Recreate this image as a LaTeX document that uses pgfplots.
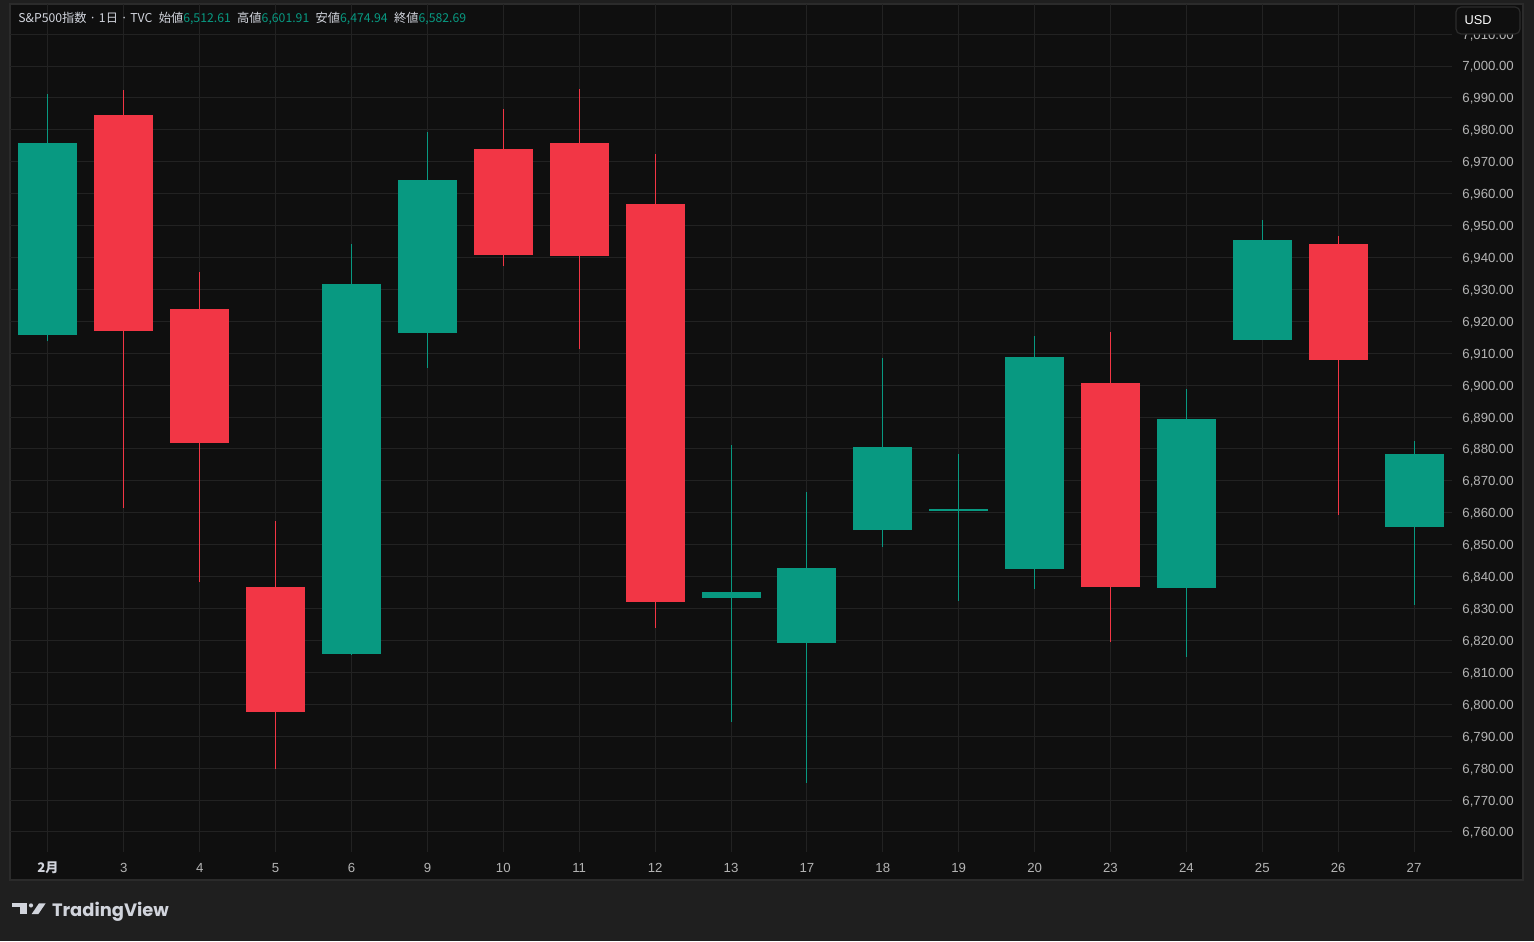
\documentclass[border=0pt]{standalone}
\usepackage{fontspec}
\setmainfont{Liberation Sans}
\newfontfamily\jp{Noto Sans CJK JP}
\newfontfamily\logofont{Poppins}
\usepackage{pgfplots}
\usepackage{pgfplotstable}
\pgfplotsset{compat=1.18}

\definecolor{outerbg}{HTML}{1F1F1F}
\definecolor{panelbg}{HTML}{0F0F0F}
\definecolor{panelbd}{HTML}{2B2B2B}
\definecolor{gridc}{HTML}{222222}
\definecolor{tickc}{HTML}{B4B4B4}
\definecolor{hdrc}{HTML}{D1D4DC}
\definecolor{upc}{HTML}{089981}
\definecolor{dnc}{HTML}{F23645}

% candles: x = day index, segments split by nan
% wick = low -> high, body = open -> close
\pgfplotstableread{
x   y
0   6913.8
0   6991.2
0   nan
4   6815.5
4   6944.2
4   nan
5   6905.4
5   6979.3
5   nan
9   6794.5
9   6881.3
9   nan
10  6775.4
10  6866.5
10  nan
11  6849.3
11  6908.5
11  nan
12  6832.4
12  6878.4
12  nan
13  6836.1
13  6915.4
13  nan
15  6814.8
15  6898.8
15  nan
16  6914.0
16  6951.8
16  nan
18  6831.1
18  6882.5
}\upwick

\pgfplotstableread{
x   y
0   6915.7
0   6975.9
0   nan
4   6815.8
4   6931.7
4   nan
5   6916.3
5   6964.3
5   nan
9   6833.4
9   6835.3
9   nan
10  6819.2
10  6842.7
10  nan
11  6854.6
11  6880.6
11  nan
12  6860.7
12  6861.3
12  nan
13  6842.4
13  6908.8
13  nan
15  6836.5
15  6889.4
15  nan
16  6914.2
16  6945.5
16  nan
18  6855.6
18  6878.4
}\upbody

\pgfplotstableread{
x   y
1   6861.5
1   6992.5
1   nan
2   6838.3
2   6935.5
2   nan
3   6779.7
3   6857.4
3   nan
6   6937.3
6   6986.5
6   nan
7   6911.3
7   6992.8
7   nan
8   6823.9
8   6972.4
8   nan
14  6819.5
14  6916.7
14  nan
17  6859.3
17  6946.7
}\dnwick

\pgfplotstableread{
x   y
1   6984.6
1   6917.0
1   nan
2   6923.9
2   6881.9
2   nan
3   6836.8
3   6797.6
3   nan
6   6974.0
6   6940.8
6   nan
7   6975.9
7   6940.5
7   nan
8   6956.8
8   6832.1
8   nan
14  6900.7
14  6836.8
14  nan
17  6944.2
17  6907.9
}\dnbody

\begin{document}
\begin{tikzpicture}
\useasboundingbox (0,0) rectangle (767pt,470.5pt);
\fill[outerbg] (0,0) rectangle (767pt,470.5pt);
\filldraw[fill=panelbg, draw=panelbd, line width=0.6pt] (5pt,30.5pt) rectangle (761.5pt,468.5pt);

\begin{axis}[
    at={(5pt,44.5pt)}, anchor=south west,
    scale only axis, width=721pt, height=424pt,
    xmin=-0.5, xmax=18.5,
    ymin=6753.73, ymax=7019.43,
    axis line style={draw=none},
    major tick length=0pt,
    xtick={0,...,18},
    xticklabels={{\textcolor{hdrc}{\jp\bfseries 2月}},3,4,5,6,9,10,11,12,13,17,18,19,20,23,24,25,26,27},
    ytick={6760,6770,...,7010},
    grid=major,
    major grid style={color=gridc, line width=0.5pt},
    yticklabel pos=right,
    ticklabel style={font=\fontsize{6.6}{8}\selectfont, text=tickc},
    yticklabel style={anchor=west, inner sep=0pt, xshift=5pt, yshift=-0.6pt},
    xticklabel style={anchor=center, inner sep=0pt, yshift=-8pt},
    /pgf/number format/.cd, fixed, fixed zerofill, precision=2, 1000 sep={,}, assume math mode=true,
    /pgfplots/.cd,
    unbounded coords=jump,
    clip=false,
]
\addplot[upc, line width=0.5pt, mark=none] table[x=x, y=y] {\upwick};
\addplot[dnc, line width=0.5pt, mark=none] table[x=x, y=y] {\dnwick};
\addplot[upc, line width=29.5pt, line cap=butt, mark=none] table[x=x, y=y] {\upbody};
\addplot[dnc, line width=29.5pt, line cap=butt, mark=none] table[x=x, y=y] {\dnbody};
\end{axis}

% header line
\node[anchor=west, inner sep=0pt, text=hdrc, font=\jp\fontsize{6.12}{8}\selectfont] at (9pt,461pt)
  {S\&P500指数 · 1日 · TVC\hspace{3.2pt}始値\textcolor{upc}{6,512.61}\hspace{3.2pt}高値\textcolor{upc}{6,601.91}\hspace{3.2pt}安値\textcolor{upc}{6,474.94}\hspace{3.2pt}終値\textcolor{upc}{6,582.69}};
% currency box
\filldraw[fill=panelbg, draw=panelbd, line width=0.6pt, rounded corners=2.5pt] (728pt,453.5pt) rectangle (760pt,467pt);
\node[text=white, font=\fontsize{6.4}{8}\selectfont, inner sep=0pt] at (739pt,460.3pt) {USD};

% TradingView logo
\fill[hdrc] (5.85pt,18.85pt) rectangle (13.7pt,16.8pt);
\fill[hdrc] (10pt,18.85pt) rectangle (13.7pt,13.5pt);
\fill[hdrc] (15.5pt,17.8pt) circle (1.05pt);
\fill[hdrc] (15.85pt,13.5pt) -- (19.2pt,13.5pt) -- (22.85pt,18.85pt) -- (19.5pt,18.85pt) -- cycle;
\node[anchor=base west, inner sep=0pt, text=hdrc, font=\logofont\bfseries\fontsize{8.95}{10}\selectfont] at (25.8pt,12.2pt) {TradingView};
\end{tikzpicture}
\end{document}
